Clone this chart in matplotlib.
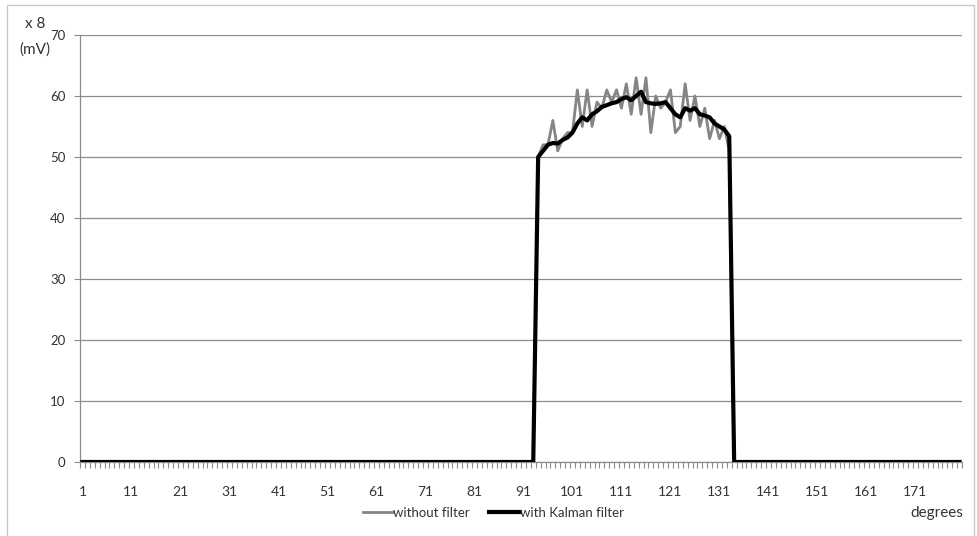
import matplotlib
matplotlib.use("Agg")
import matplotlib.pyplot as plt
from matplotlib.patches import Rectangle
from matplotlib.ticker import FixedLocator

plt.rcParams["font.family"] = ["Lato", "DejaVu Sans"]

# Sensor readings per degree (x8 mV); zero outside the detected object
degrees = list(range(1, 181))
lead_zeros = [0] * 93          # degrees 1..93
tail_zeros = [0] * 47          # degrees 134..180
raw_segment = [50, 52, 52, 56, 51, 53, 54, 54, 61, 55,
               61, 55, 59, 58, 61, 59, 61, 58, 62, 57,
               63, 57, 63, 54, 60, 58, 59, 61, 54, 55,
               62, 56, 60, 55, 58, 53, 56, 53, 55, 51]
kalman_segment = [50, 51, 52, 52.3, 52.2, 52.8, 53.2, 54, 55.5, 56.5,
                  56, 57, 57.5, 58.2, 58.5, 58.8, 59, 59.5, 59.8, 59.3,
                  60, 60.7, 59, 58.8, 58.7, 58.8, 59, 58, 57, 56.5,
                  58, 57.6, 58, 57, 56.8, 56.5, 55.5, 55, 54.5, 53.4]
without_filter = lead_zeros + raw_segment + tail_zeros
with_kalman = lead_zeros + kalman_segment + tail_zeros

y_ticks = [0, 10, 20, 30, 40, 50, 60, 70]
x_labels = list(range(1, 180, 10))

fig = plt.figure(figsize=(9.77, 5.36), dpi=100)
ax = fig.add_axes([80 / 977, 1 - 462 / 536, 882 / 977, 427 / 536])

grid_c = "#8c8c8c"
text_c = "#333333"
ax.plot(degrees, without_filter, color="#858585", lw=2.0, label="without filter",
        solid_joinstyle="round", zorder=3)
ax.plot(degrees, with_kalman, color="black", lw=3.0, label="with Kalman filter",
        solid_joinstyle="round", zorder=4)

ax.set_xlim(0.5, 180.5)
ax.set_ylim(0, 70)
ax.set_yticks(y_ticks)
ax.yaxis.grid(True, color=grid_c, lw=0.9)
ax.set_axisbelow(True)

ax.set_xticks(x_labels)
ax.xaxis.set_minor_locator(FixedLocator([d + 0.5 for d in range(0, 181)]))
ax.tick_params(axis="x", which="major", length=0, pad=17, labelsize=10, labelcolor=text_c)
ax.tick_params(axis="x", which="minor", length=4, color=grid_c, width=0.8, direction="out")
ax.tick_params(axis="y", length=4.5, color=grid_c, width=0.8, pad=6, labelsize=9.5,
               labelcolor=text_c)

for side in ("top", "right"):
    ax.spines[side].set_visible(False)
for side in ("left", "bottom"):
    ax.spines[side].set_color(grid_c)
    ax.spines[side].set_linewidth(0.9)

fig.text(35 / 977, 1 - 24 / 536, "x 8", fontsize=11, ha="center", va="center", color=text_c)
fig.text(35 / 977, 1 - 50 / 536, "(mV)", fontsize=11, ha="center", va="center", color=text_c)
fig.text(937 / 977, 1 - 513 / 536, "degrees", fontsize=11, ha="center", va="center",
         color=text_c)

fig.legend(loc="center", bbox_to_anchor=(493 / 977, 1 - 513 / 536), ncol=2, frameon=False,
           fontsize=9.5, handlelength=2.3, handletextpad=0.0, columnspacing=1.5,
           labelcolor=text_c)

fig.patches.append(Rectangle((7 / 977, -0.01), 967 / 977, 1 - 5 / 536 + 0.01,
                             transform=fig.transFigure, fill=False,
                             edgecolor="#c8c8c8", lw=1.0))

fig.savefig("out.png", dpi=100)
